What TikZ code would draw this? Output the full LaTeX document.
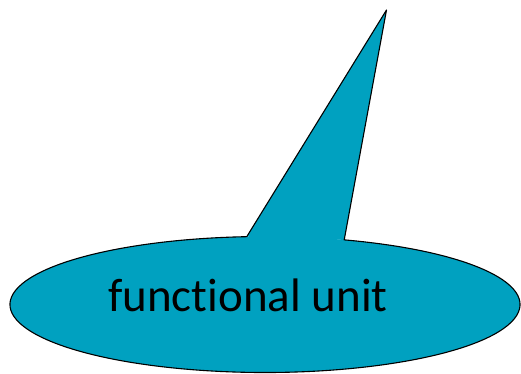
\documentclass[tikz,border=0pt]{standalone}
\usepackage{fontspec}
\setmainfont[Ligatures=NoCommon]{Carlito}
\usetikzlibrary{positioning,calc}
\definecolor{CalloutTeal}{RGB}{0, 161, 192}

\begin{document}
\begin{tikzpicture}[x=1pt, y=1pt, line width=1.1pt, line join=round]
  \useasboundingbox (0, 0) rectangle (521, 374);

  % Pointer corners
  \coordinate (tip) at (386.5, 364);
  \coordinate (baseL) at ($(265, 69.5)+(94.1:255 and 68)$);
  \coordinate (baseR) at ($(265, 69.5)+(71.9:255 and 68)$);

  % Callout body
  \fill[CalloutTeal] (265, 69.5) ellipse [x radius=255, y radius=68];
  \fill[CalloutTeal] (baseL) -- (tip) -- (baseR) -- cycle;
  \draw (baseR) arc [start angle=71.9, end angle=-265.9, x radius=255, y radius=68]
    -- (tip) -- cycle;

  % Label
  \node[anchor=base, inner sep=0pt, font=\fontsize{47}{51}\selectfont] (label) at (248, 62) {functional unit};
\end{tikzpicture}
\end{document}
